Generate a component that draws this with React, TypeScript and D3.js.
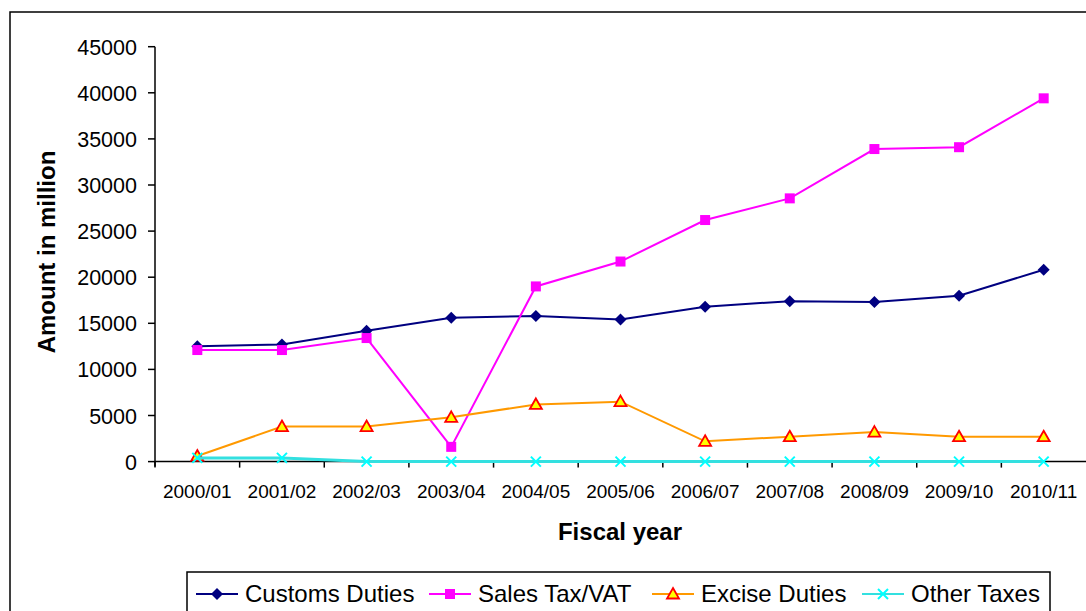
import React from "react";
import * as d3 from "d3";

const categories = ["2000/01","2001/02","2002/03","2003/04","2004/05","2005/06","2006/07","2007/08","2008/09","2009/10","2010/11"];
const customsDuties = [12500,12700,14200,15600,15800,15400,16800,17400,17300,18000,20800];
const salesTaxVAT = [12100,12100,13400,1600,19000,21700,26200,28550,33900,34100,39400];
const exciseDuties = [600,3800,3800,4800,6200,6500,2200,2700,3200,2700,2700];
const otherTaxes = [400,400,0,0,0,0,0,0,0,0,0];
const yTicks = [0,5000,10000,15000,20000,25000,30000,35000,40000,45000];

type Series = { name: string; values: number[]; color: string; marker: string; width: number };
const series: Series[] = [
  { name: "Customs Duties", values: customsDuties, color: "#000080", marker: "diamond", width: 2 },
  { name: "Sales Tax/VAT", values: salesTaxVAT, color: "#FF00FF", marker: "square", width: 2 },
  { name: "Excise Duties", values: exciseDuties, color: "#FF9900", marker: "triangle", width: 2 },
  { name: "Other Taxes", values: otherTaxes, color: "#33E0E0", marker: "x", width: 3 },
];

const FONT = "'Liberation Sans', Arial, sans-serif";

function Marker({ type, x, y }: { type: string; x: number; y: number }) {
  if (type === "diamond") {
    const r = 6;
    return <path d={`M${x},${y - r}L${x + r},${y}L${x},${y + r}L${x - r},${y}Z`} fill="#000080" />;
  }
  if (type === "square") {
    const r = 5;
    return <rect x={x - r} y={y - r} width={2 * r} height={2 * r} fill="#FF00FF" />;
  }
  if (type === "triangle") {
    const r = 6;
    return <path d={`M${x},${y - r}L${x + r},${y + r * 0.75}L${x - r},${y + r * 0.75}Z`} fill="#FFFF00" stroke="#FF0000" strokeWidth={1.8} />;
  }
  const r = 5;
  return <path d={`M${x - r},${y - r}L${x + r},${y + r}M${x - r},${y + r}L${x + r},${y - r}`} stroke="#00FFFF" strokeWidth={2} fill="none" />;
}

export default function App() {
  const W = 1086, H = 611;
  const x = d3.scaleBand<string>().domain(categories).range([155, 1086]).padding(0);
  const y = d3.scaleLinear().domain([0, 45000]).range([461.6, 46.7]);
  const cx = (c: string) => (x(c) as number) + x.bandwidth() / 2;
  const line = d3.line<number>().x((_, i) => cx(categories[i])).y((v) => y(v));

  const legendX = [196, 429, 652, 862];

  return (
    <svg width={W} height={H} style={{ position: "absolute", left: 0, top: 0, background: "#fff" }} fontFamily={FONT}>
      <rect x={0} y={0} width={W} height={H} fill="#fff" />
      <rect x={10} y={12} width={1200} height={800} fill="none" stroke="#000" strokeWidth={1.5} />

      {/* y axis */}
      <line x1={155} x2={155} y1={y(45000)} y2={y(0) + 5} stroke="#000" strokeWidth={1.5} />
      {yTicks.map((t) => (
        <g key={t}>
          <line x1={148} x2={155} y1={y(t)} y2={y(t)} stroke="#000" strokeWidth={1.5} />
          <text x={137} y={y(t) + 8} textAnchor="end" fontSize={21.5} fill="#000">{t}</text>
        </g>
      ))}
      {/* x axis */}
      <line x1={155} x2={1086} y1={y(0)} y2={y(0)} stroke="#000" strokeWidth={1.5} />
      {categories.map((c) => (
        <g key={c}>
          <line x1={x(c) as number} x2={x(c) as number} y1={y(0)} y2={y(0) + 6} stroke="#000" strokeWidth={1.5} />
          <text x={cx(c)} y={498} textAnchor="middle" fontSize={19} fill="#000">{c}</text>
        </g>
      ))}

      {series.map((s) => (
        <g key={s.name}>
          <path d={line(s.values) || ""} fill="none" stroke={s.color} strokeWidth={s.width} />
          {s.values.map((v, i) => (
            <Marker key={i} type={s.marker} x={cx(categories[i])} y={y(v)} />
          ))}
        </g>
      ))}

      <text x={620} y={540} textAnchor="middle" fontSize={24} fontWeight="bold" fill="#000">Fiscal year</text>
      <text transform={`translate(55,252) rotate(-90)`} textAnchor="middle" fontSize={24} fontWeight="bold" fill="#000">Amount in million</text>

      {/* legend */}
      <rect x={187} y={572} width={863} height={60} fill="#fff" stroke="#000" strokeWidth={1.5} />
      {series.map((s, i) => (
        <g key={s.name}>
          <line x1={legendX[i]} x2={legendX[i] + 42} y1={594} y2={594} stroke={s.color} strokeWidth={2} />
          <Marker type={s.marker} x={legendX[i] + 21} y={594} />
          <text x={legendX[i] + 49} y={602} fontSize={24} fill="#000">{s.name}</text>
        </g>
      ))}
    </svg>
  );
}
